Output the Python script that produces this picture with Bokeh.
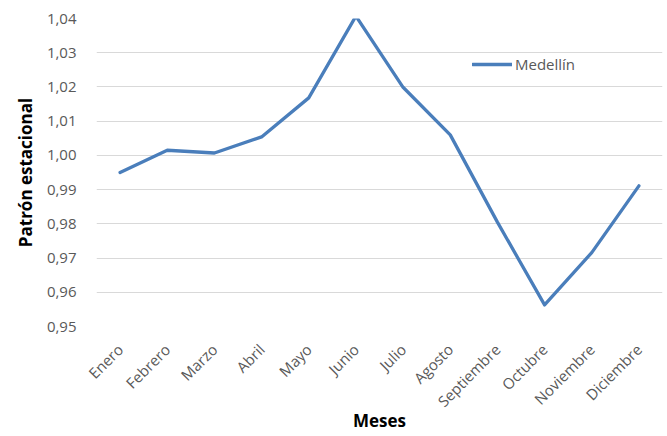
from bokeh.plotting import figure
from bokeh.models import (FactorRange, Range1d, FixedTicker, CustomJSTickFormatter,
                          Legend, LegendItem)
from bokeh.embed import file_html
from bokeh.resources import INLINE
import math

months = ["Enero", "Febrero", "Marzo", "Abril", "Mayo", "Junio", "Julio",
          "Agosto", "Septiembre", "Octubre", "Noviembre", "Diciembre"]
medellin = [0.995, 1.0015, 1.0007, 1.0054, 1.0168, 1.0407, 1.0199,
            1.0060, 0.9805, 0.9563, 0.9716, 0.9911]
y_ticks = [0.95, 0.96, 0.97, 0.98, 0.99, 1.00, 1.01, 1.02, 1.03, 1.04]

FONT = "Open Sans"
GRAY = "#595959"

p = figure(width=664, height=434, output_backend="svg", toolbar_location=None,
           x_range=FactorRange(*months, range_padding=0),
           y_range=Range1d(0.95, 1.04))
p.min_border_left = 96
p.min_border_right = 2
p.min_border_top = 18
p.min_border_bottom = 108
p.outline_line_color = None
p.background_fill_color = "white"
p.border_fill_color = "white"

r = p.line(months, medellin, line_color="#4A7EBB", line_width=3.3,
           line_join="round", line_cap="round")

p.xgrid.grid_line_color = None
p.ygrid.grid_line_color = "#D9D9D9"
p.ygrid.grid_line_width = 1
p.yaxis.ticker = FixedTicker(ticks=y_ticks)
p.yaxis.formatter = CustomJSTickFormatter(code="return tick.toFixed(2).replace('.', ',');")

for ax in (p.xaxis, p.yaxis):
    ax.axis_line_color = None
    ax.major_tick_line_color = None
    ax.minor_tick_line_color = None
    ax.major_tick_out = 0
    ax.major_tick_in = 0
    ax.minor_tick_out = 0
    ax.minor_tick_in = 0
    ax.major_label_text_font = FONT
    ax.major_label_text_font_size = "15px"
    ax.major_label_text_color = GRAY
    ax.axis_label_text_font = FONT
    ax.axis_label_text_font_style = "bold"
    ax.axis_label_text_font_size = "17px"
    ax.axis_label_text_color = "black"

p.xaxis.axis_label = "Meses"
p.yaxis.axis_label = "Patrón estacional"
p.xaxis.major_label_orientation = math.pi / 4
p.xaxis.major_label_standoff = 20
p.xaxis.axis_label_standoff = -12
p.yaxis.major_label_standoff = 20
p.yaxis.axis_label_standoff = 7

legend = Legend(items=[LegendItem(label="Medellín", renderers=[r])],
                location=(376, 252), border_line_color=None,
                background_fill_alpha=0, padding=0, margin=0,
                glyph_width=40, glyph_height=20, label_standoff=3,
                label_text_font=FONT, label_text_font_size="15px",
                label_text_color=GRAY)
p.add_layout(legend)

open("out.html", "w").write(file_html(p, INLINE))
